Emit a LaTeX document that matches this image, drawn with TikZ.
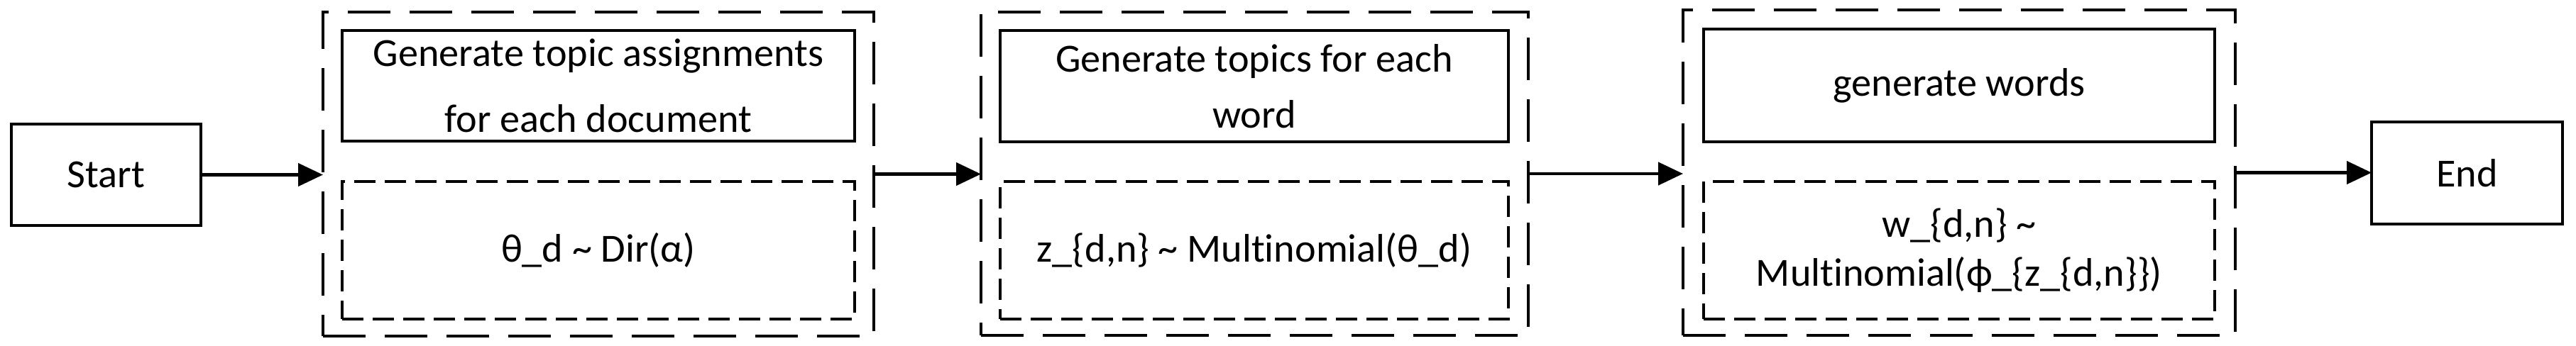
\documentclass[tikz,border=0pt]{standalone}
\usepackage{fontspec}
\setmainfont{Carlito}[Ligatures=NoCommon]
\usetikzlibrary{arrows.meta}
\begin{document}
\begin{tikzpicture}[x=1cm,y=1cm,
  every node/.style={inner sep=0pt, outer sep=0pt, font=\fontsize{16}{19}\selectfont, align=center},
  solidbox/.style={draw, line width=1.1pt, rectangle},
  outerbox/.style={draw, line width=1.2pt, rectangle, dash pattern=on 0.6cm off 0.27cm},
  innerdash/.style={draw, line width=1.1pt, rectangle, dash pattern=on 0.3cm off 0.13cm},
  flow/.style={line width=1.3pt, -{Triangle[length=0.35cm,width=0.32cm]}}
]
\useasboundingbox (0,0) rectangle (36.29,-4.88);
% start / end
\node[solidbox, minimum width=2.67cm, minimum height=1.43cm] (start) at (1.495,-2.465) {Start};
\node[solidbox, minimum width=2.69cm, minimum height=1.44cm] (end) at (34.755,-2.44) {End};
% stage 1
\node[outerbox, minimum width=7.76cm, minimum height=4.57cm] (outer1) at (8.43,-2.455) {};
\node[solidbox, minimum width=7.22cm, minimum height=1.56cm, font=\fontsize{16}{26.5}\selectfont] (top1) at (8.43,-1.21)
  {Generate topic assignments\\for each document};
\node[innerdash, minimum width=7.22cm, minimum height=1.94cm] (bot1) at (8.43,-3.53)
  {θ\_d \textasciitilde\ Dir(α)};
% stage 2
\node[outerbox, minimum width=7.71cm, minimum height=4.56cm] (outer2) at (17.675,-2.45) {};
\node[solidbox, minimum width=7.16cm, minimum height=1.57cm, font=\fontsize{16}{22.5}\selectfont] (top2) at (17.67,-1.215)
  {Generate topics for each\\word};
\node[innerdash, minimum width=7.16cm, minimum height=1.94cm] (bot2) at (17.67,-3.53)
  {z\_\{d,n\} \textasciitilde\ Multinomial(θ\_d)};
% stage 3
\node[outerbox, minimum width=7.78cm, minimum height=4.59cm] (outer3) at (27.6,-2.435) {};
\node[solidbox, minimum width=7.2cm, minimum height=1.59cm] (top3) at (27.6,-1.205)
  {generate words};
\node[innerdash, minimum width=7.2cm, minimum height=1.94cm, font=\fontsize{16}{19.6}\selectfont] (bot3) at (27.6,-3.53)
  {w\_\{d,n\} \textasciitilde\\Multinomial(ϕ\_\{z\_\{d,n\}\})};
% connectors
\draw[flow] (start.east) -- (start.east -| outer1.west);
\draw[flow] (outer1.east) -- (outer1.east -| outer2.west);
\draw[flow] (outer2.east) -- (outer2.east -| outer3.west);
\draw[flow] (outer3.east) -- (outer3.east -| end.west);
\end{tikzpicture}
\end{document}
